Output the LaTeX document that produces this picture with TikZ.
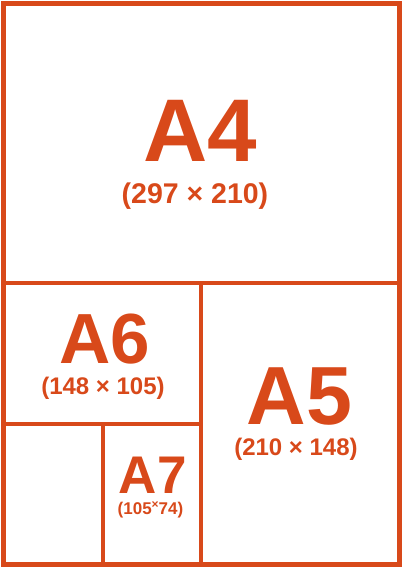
\documentclass[tikz,border=0pt]{standalone}
\usepackage{fontspec}
\setmainfont{Liberation Sans}
\definecolor{paper}{RGB}{216,73,26}
\begin{document}
\begin{tikzpicture}[x=1pt,y=-1pt,
  frame/.style={draw=paper,line width=4.6pt},
  divider/.style={draw=paper,line width=4.3pt},
  lbl/.style={text=paper,inner sep=0pt,anchor=base,font=\bfseries}]
\useasboundingbox (0,0) rectangle (403,568);
\draw[frame] (3.5,3.5) rectangle (399.5,564.5);
\draw[divider] (3.5,283) -- (399.5,283);
\draw[divider] (201,283) -- (201,564.5);
\draw[divider] (3.5,424) -- (201,424);
\draw[divider] (103,424) -- (103,564.5);
\node[lbl] (a4) at (200.5,161) {\fontsize{89}{89}\selectfont A4};
\node[lbl] (a4s) at (195,203) {\fontsize{28.5}{28.5}\selectfont (297 × 210)};
\node[lbl] (a6) at (105,363) {\fontsize{71}{71}\selectfont A6};
\node[lbl] (a6s) at (103,394) {\fontsize{24}{24}\selectfont (148 × 105)};
\node[lbl] (a5) at (299.5,424) {\fontsize{82.5}{82.5}\selectfont A5};
\node[lbl] (a5s) at (296,455) {\fontsize{24}{24}\selectfont (210 × 148)};
\node[lbl] (a7) at (152.7,493) {\fontsize{53}{53}\selectfont A7};
\node[lbl] (a7s) at (150.5,514) {\fontsize{17}{17}\selectfont (105\raisebox{0.3em}{\fontsize{12}{12}\selectfont ×}74)};
\end{tikzpicture}
\end{document}
